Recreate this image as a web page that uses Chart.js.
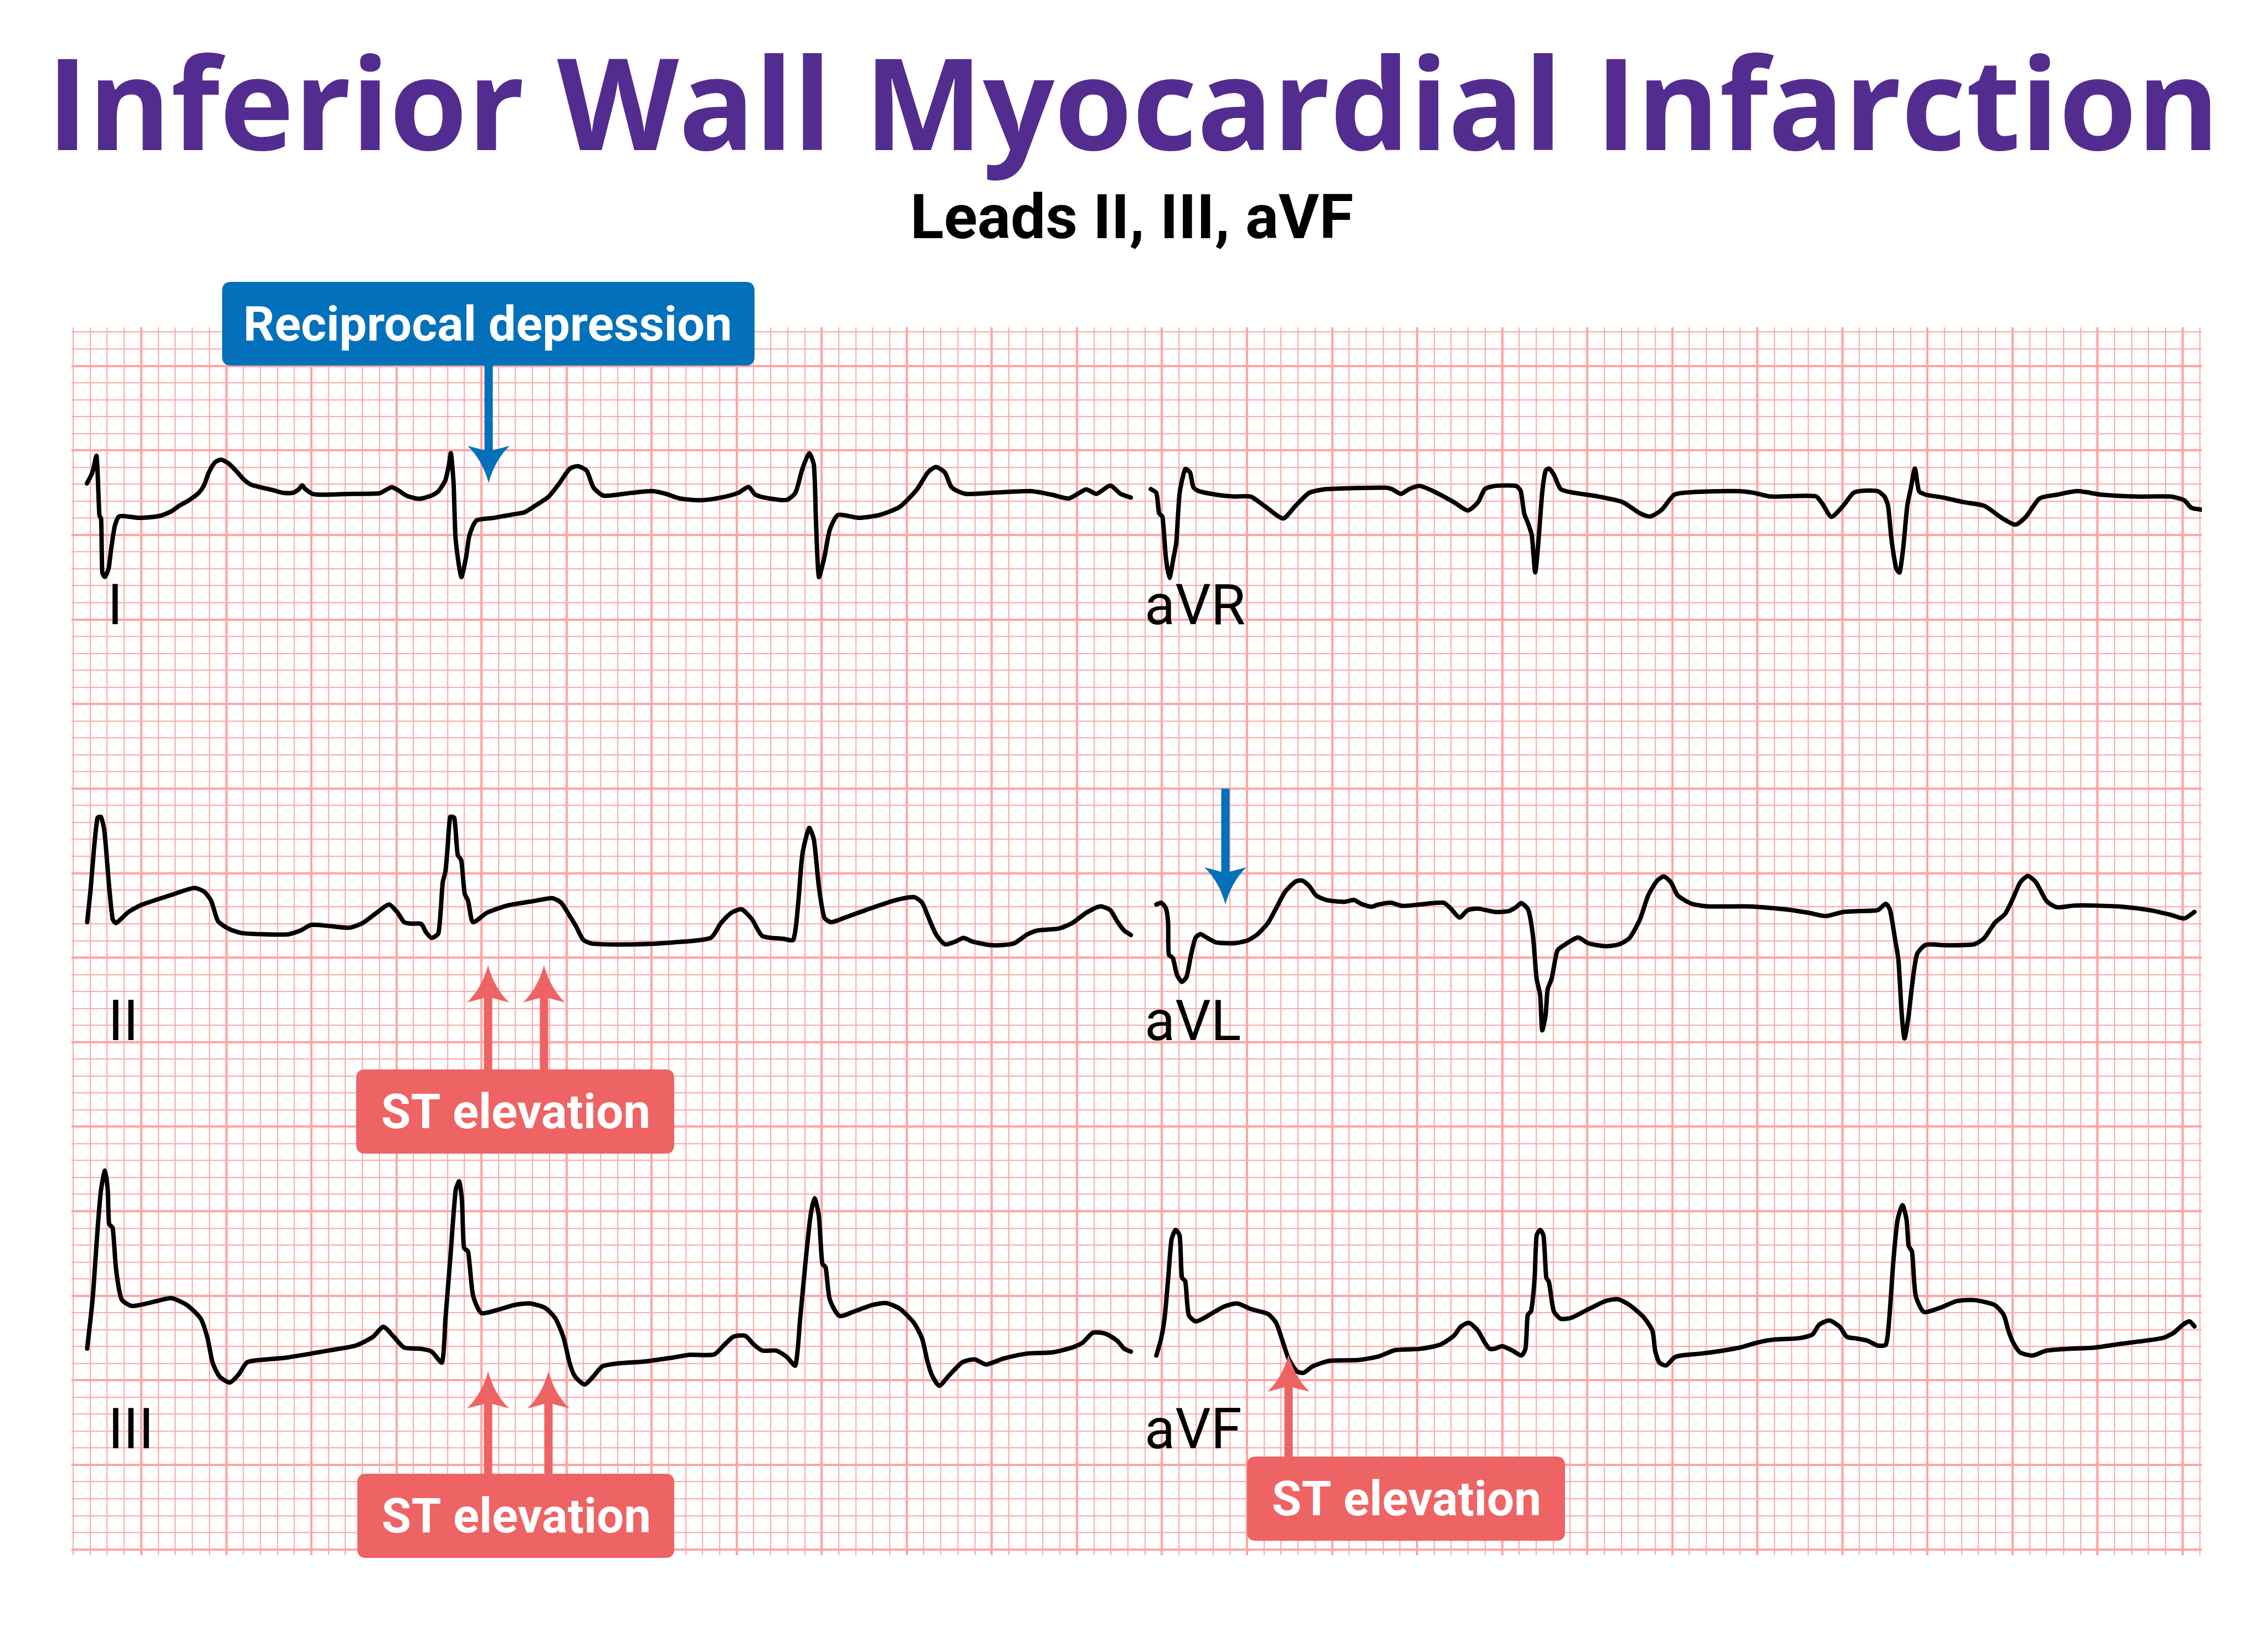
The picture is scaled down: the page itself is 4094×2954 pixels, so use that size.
<!DOCTYPE html>
<html><head><meta charset="utf-8">
<script src="https://cdn.jsdelivr.net/npm/chart.js@4/dist/chart.umd.min.js"></script>
<style>html,body{margin:0;padding:0;background:#fff;}canvas{display:block;}</style>
</head><body>
<canvas id="c" width="4094" height="2954" style="width:4094px;height:2954px"></canvas>
<script>
// ---------- DATA (time in mm of paper, amplitude in mm relative to the lead's baseline) ----------
const leadNames = ['I', 'aVR', 'II', 'aVL', 'III', 'aVF'];

const leadI = [[-3.19,0.55],[-2.87,1.20],[-2.63,2.17],[-2.46,-1.33],[-2.36,-1.55],[-2.29,-4.71],[-2.14,-4.98],[-1.92,-4.49],[-1.78,-3.40],[-1.56,-1.98],[-1.34,-1.43],[-1.05,-1.38],[-0.10,-1.49],[1.06,-1.38],[1.78,-1.10],[2.22,-0.78],[2.80,-0.45],[3.38,-0.01],[3.68,0.42],[3.97,1.19],[4.33,1.79],[4.69,1.95],[5.13,1.73],[5.57,1.30],[6.00,0.81],[6.44,0.48],[7.02,0.32],[7.75,0.15],[8.33,-0.01],[8.91,-0.01],[9.27,0.21],[9.45,0.44],[9.64,0.22],[10.07,-0.07],[10.65,-0.12],[12.40,-0.07],[14.00,-0.04],[14.36,0.15],[14.72,0.32],[15.09,0.15],[15.60,-0.18],[16.32,-0.36],[17.05,-0.18],[17.47,0.09],[17.88,0.75],[18.08,1.62],[18.20,2.33],[18.36,0.53],[18.48,-2.74],[18.81,-4.98],[19.09,-3.84],[19.29,-2.53],[19.70,-1.65],[20.71,-1.49],[21.93,-1.27],[22.53,-1.16],[23.14,-0.78],[23.95,-0.23],[24.56,0.53],[25.17,1.40],[25.65,1.57],[26.18,1.30],[26.58,0.31],[27.19,-0.18],[28.81,-0.01],[30.02,0.09],[30.84,-0.07],[31.65,-0.34],[32.86,-0.45],[34.08,-0.29],[35.09,-0.01],[35.70,0.34],[36.10,-0.12],[36.91,-0.34],[37.93,-0.43],[38.45,-0.01],[38.86,1.40],[39.26,2.33],[39.54,1.62],[39.66,-1.65],[39.83,-4.98],[40.15,-3.84],[40.47,-2.20],[40.96,-1.32],[42.17,-1.49],[43.39,-1.32],[44.60,-0.83],[45.61,0.21],[46.23,1.19],[46.71,1.52],[47.24,1.19],[47.64,0.31],[48.45,-0.07],[50.28,0.01],[52.30,0.09],[53.52,-0.12],[54.53,-0.34],[55.54,0.19],[56.15,-0.07],[56.96,0.42],[57.57,-0.07],[58.17,-0.29]];

const leadAVR = [[59.34,0.21],[59.67,-0.01],[59.83,-1.22],[60.03,-1.43],[60.23,-3.84],[60.44,-5.04],[60.68,-3.84],[60.84,-2.96],[61.04,-0.01],[61.37,1.40],[61.65,1.19],[61.85,0.31],[62.18,0.09],[63.19,-0.12],[64.20,-0.23],[65.21,-0.23],[66.02,-0.78],[67.12,-1.52],[67.85,-0.78],[68.66,-0.01],[69.67,0.21],[73.11,0.30],[73.52,0.21],[74.04,-0.07],[74.53,0.21],[75.14,0.40],[75.95,0.09],[77.16,-0.56],[77.97,-1.05],[78.58,-0.56],[78.98,0.21],[79.59,0.40],[80.81,0.40],[81.09,0.09],[81.29,-1.22],[81.54,-1.87],[81.74,-2.53],[81.94,-4.71],[82.14,-2.74],[82.35,-0.01],[82.55,1.30],[82.75,1.43],[83.03,1.08],[83.44,0.21],[84.25,-0.01],[85.66,-0.23],[87.08,-0.56],[88.10,-1.22],[88.70,-1.41],[89.39,-1.00],[90.12,-0.12],[91.34,0.04],[93.77,0.09],[94.78,-0.01],[95.79,-0.23],[98.42,-0.21],[98.83,-0.67],[99.35,-1.43],[100.04,-0.78],[100.65,-0.01],[101.26,0.12],[102.07,0.09],[102.47,-0.23],[102.68,-0.78],[102.88,-2.74],[103.16,-4.49],[103.36,-4.71],[103.57,-3.29],[103.81,-0.78],[104.01,0.21],[104.26,1.43],[104.50,0.09],[104.90,-0.12],[105.91,-0.29],[107.13,-0.56],[108.34,-0.78],[109.36,-1.49],[110.17,-1.89],[110.78,-1.43],[111.59,-0.34],[112.60,-0.12],[113.81,0.09],[115.23,-0.12],[117.26,-0.23],[119.28,-0.23],[120.09,-0.45],[120.50,-0.89],[121.11,-1.00]];

const leadII = [[-3.18,0.60],[-2.98,2.51],[-2.78,4.92],[-2.57,6.77],[-2.37,6.82],[-2.17,6.01],[-1.89,2.73],[-1.68,0.77],[-1.48,0.55],[-0.75,1.20],[0.06,1.64],[1.68,2.18],[3.10,2.62],[3.70,2.40],[4.11,1.86],[4.51,0.66],[5.12,0.22],[5.93,-0.05],[8.56,-0.13],[9.37,0.11],[9.98,0.44],[10.99,0.38],[12.21,0.27],[13.02,0.55],[13.83,1.15],[14.56,1.64],[15.04,1.20],[15.45,0.60],[15.85,0.51],[16.46,0.49],[16.74,0.00],[17.07,-0.33],[17.47,-0.05],[17.72,2.95],[17.88,3.60],[18.00,4.92],[18.16,6.82],[18.40,6.77],[18.60,4.59],[18.81,4.26],[19.01,2.29],[19.21,1.86],[19.50,0.60],[20.31,1.15],[21.52,1.58],[23.14,1.86],[24.15,2.02],[24.68,1.75],[25.17,0.99],[25.57,0.33],[25.98,-0.44],[26.58,-0.68],[29.22,-0.71],[31.24,-0.60],[33.47,-0.33],[34.08,0.55],[34.68,1.15],[35.29,1.36],[35.90,0.77],[36.51,-0.22],[37.72,-0.38],[38.33,-0.44],[38.61,1.64],[38.86,4.59],[39.26,6.17],[39.54,5.46],[39.83,2.73],[40.15,0.87],[40.56,0.60],[41.37,0.87],[42.58,1.31],[44.20,1.86],[45.41,2.08],[45.90,1.75],[46.23,0.99],[46.71,-0.11],[47.24,-0.71],[47.85,-0.55],[48.33,-0.33],[48.86,-0.55],[50.07,-0.77],[51.29,-0.66],[52.10,-0.11],[52.70,0.11],[53.92,0.22],[54.73,0.55],[55.54,1.15],[56.35,1.53],[56.96,1.31],[57.36,0.66],[57.77,0.11],[58.17,-0.16]];

const leadAVL = [[59.67,1.64],[59.95,1.75],[60.23,1.42],[60.36,0.55],[60.40,-1.31],[60.64,-1.53],[60.88,-2.51],[61.17,-2.93],[61.45,-2.62],[61.69,-1.42],[61.97,-0.33],[62.26,-0.11],[62.66,-0.33],[63.19,-0.60],[64.20,-0.65],[65.01,-0.49],[65.62,-0.11],[66.23,0.55],[66.71,1.42],[67.24,2.40],[67.85,3.00],[68.25,3.06],[68.66,2.73],[69.06,2.18],[69.67,1.91],[70.68,1.80],[71.29,1.91],[71.69,1.69],[72.30,1.51],[72.71,1.64],[73.44,1.75],[74.13,1.56],[75.14,1.64],[76.55,1.75],[76.96,1.42],[77.49,0.87],[77.97,1.31],[78.58,1.40],[79.59,1.20],[80.40,1.26],[80.81,1.48],[81.13,1.73],[81.54,1.31],[81.82,-0.33],[82.02,-2.73],[82.23,-3.71],[82.35,-5.79],[82.55,-4.91],[82.67,-3.38],[82.91,-2.73],[83.24,-1.09],[83.64,-0.76],[84.45,-0.31],[85.06,-0.65],[86.07,-0.82],[86.88,-0.71],[87.49,-0.33],[88.10,0.77],[88.58,2.18],[89.11,3.06],[89.51,3.30],[89.92,2.95],[90.32,2.18],[91.13,1.69],[92.14,1.53],[94.57,1.53],[96.60,1.36],[98.02,1.15],[99.03,0.96],[100.04,1.20],[101.05,1.26],[102.07,1.31],[102.55,1.69],[102.80,1.31],[103.08,-0.33],[103.29,-1.64],[103.49,-4.91],[103.65,-6.28],[103.89,-4.91],[104.09,-3.17],[104.38,-1.31],[104.90,-0.74],[106.12,-0.77],[107.74,-0.71],[108.34,-0.33],[108.95,0.55],[109.56,1.09],[109.96,1.86],[110.45,2.95],[110.90,3.33],[111.38,2.95],[111.99,1.86],[112.60,1.48],[113.61,1.58],[114.82,1.58],[116.44,1.51],[118.06,1.31],[119.27,1.04],[120.09,0.82],[120.69,1.20]];

const leadIII = [[-3.18,0.38],[-2.86,3.30],[-2.57,7.40],[-2.37,9.74],[-2.13,10.91],[-1.97,9.74],[-1.89,7.75],[-1.68,7.52],[-1.48,5.06],[-1.16,3.30],[-0.55,2.90],[0.67,3.13],[1.76,3.36],[2.69,2.95],[3.50,2.14],[3.90,0.97],[4.19,-0.44],[4.59,-1.26],[5.20,-1.63],[5.73,-1.14],[6.21,-0.44],[6.94,-0.30],[8.56,-0.15],[10.99,0.26],[12.61,0.56],[13.63,1.08],[14.23,1.67],[14.84,1.08],[15.45,0.44],[16.46,0.36],[17.07,0.20],[17.68,-0.44],[17.88,2.14],[18.16,5.64],[18.48,9.74],[18.69,10.27],[18.85,9.15],[18.97,6.34],[19.21,6.11],[19.50,3.54],[19.98,2.49],[20.92,2.66],[21.93,2.96],[22.82,3.05],[23.75,2.78],[24.36,2.14],[24.84,0.97],[25.17,-0.44],[25.49,-1.26],[26.06,-1.75],[26.58,-1.26],[27.11,-0.67],[28.00,-0.50],[29.62,-0.38],[31.24,-0.15],[32.26,0.01],[33.67,0.03],[34.28,0.61],[34.81,1.08],[35.49,1.14],[36.02,0.61],[36.51,0.26],[37.32,0.26],[37.92,-0.09],[38.45,-0.62],[38.73,2.14],[39.06,5.64],[39.34,8.22],[39.58,9.27],[39.83,8.22],[40.03,5.41],[40.23,5.18],[40.47,3.30],[41.04,2.31],[41.97,2.60],[42.99,2.96],[43.80,3.07],[44.61,2.72],[45.42,1.90],[45.90,0.97],[46.23,-0.44],[46.51,-1.26],[46.91,-1.82],[47.44,-1.26],[48.25,-0.44],[48.98,-0.26],[49.67,-0.56],[50.68,-0.21],[52.10,0.09],[53.52,0.15],[54.73,0.44],[55.34,0.73],[55.95,1.32],[56.68,1.26],[57.36,0.85],[57.77,0.38],[58.17,0.20]];

const leadAVF = [[59.67,-0.03],[59.95,0.97],[60.15,2.14],[60.36,4.47],[60.56,6.81],[60.80,7.40],[61.04,7.05],[61.17,4.59],[61.37,4.36],[61.57,2.37],[61.98,1.99],[62.58,2.25],[63.60,2.84],[64.41,3.05],[65.21,2.72],[66.23,2.43],[66.71,1.90],[67.04,0.97],[67.44,-0.21],[67.93,-0.97],[68.33,-1.05],[68.86,-0.67],[69.87,-0.34],[71.49,-0.30],[72.71,-0.09],[73.72,0.29],[75.14,0.36],[76.35,0.61],[77.16,1.14],[77.56,1.67],[78.05,1.90],[78.58,1.43],[78.98,0.73],[79.27,0.36],[79.59,0.38],[80.00,0.52],[80.60,0.26],[81.13,-0.03],[81.37,0.38],[81.50,2.37],[81.70,2.60],[81.90,4.47],[82.02,7.05],[82.23,7.40],[82.43,7.05],[82.59,4.59],[82.75,4.30],[83.03,2.60],[83.44,2.14],[84.05,2.20],[84.86,2.60],[86.07,3.19],[86.80,3.30],[87.49,2.95],[88.30,2.25],[88.83,1.43],[88.99,0.26],[89.23,-0.44],[89.63,-0.62],[90.12,-0.15],[90.53,-0.03],[91.74,0.09],[92.96,0.26],[93.97,0.44],[94.98,0.73],[95.99,0.91],[97.41,0.99],[98.22,1.20],[98.63,1.79],[99.23,2.04],[99.84,1.67],[100.25,1.08],[100.85,0.97],[101.46,0.85],[102.07,0.56],[102.55,0.61],[102.75,2.14],[103.00,5.64],[103.24,7.98],[103.53,8.86],[103.77,7.98],[103.89,6.46],[104.09,6.11],[104.30,3.54],[104.78,2.55],[105.71,2.78],[106.73,3.19],[107.74,3.25],[108.95,2.95],[109.48,2.37],[109.76,1.43],[110.04,0.73],[110.45,0.15],[111.18,-0.03],[111.99,0.26],[113.20,0.36],[114.82,0.44],[116.44,0.67],[117.85,0.85],[118.87,1.02],[119.48,1.32],[120.01,1.79],[120.41,1.99],[120.69,1.69]];

const annotationTexts = ['Reciprocal depression', 'ST elevation', 'ST elevation', 'ST elevation'];
const titleText = 'Inferior Wall Myocardial Infarction';
const subtitleText = 'Leads II, III, aVF';

// ---------- LAYOUT / STYLE ----------
const leadSeries = [leadI, leadAVR, leadII, leadAVL, leadIII, leadAVF];
const rowBase = [62.5, 62.5, 36.5, 36.5, 11.5, 11.5];   // paper-row baseline of each lead (mm)
const X_MIN = -4.103, X_MAX = 121.13, Y_MIN = -0.347, Y_MAX = 72.28;
const PAD = {left: 129, right: 4094 - 3974.7, top: 591, bottom: 2954 - 2808.3};
const MINOR = 'rgba(255,170,170,0.95)', MAJOR = 'rgb(255,164,164)';
const BLUE = '#0270ba', RED = '#ee6363', PURPLE = '#532c8f';

const labelPos = [ // ink-left x, baseline y (px)
  [203, 1127], [2071, 1127], [204, 1878], [2071, 1878], [204, 2615], [2071, 2615]
];

const datasets = leadSeries.map((s, k) => ({
  label: leadNames[k],
  data: s.map(p => ({x: p[0], y: p[1] + rowBase[k]})),
  showLine: true,
  borderColor: '#000',
  borderWidth: 8,
  pointRadius: 0,
  tension: 0.22,
  borderJoinStyle: 'round',
  borderCapStyle: 'round',
  fill: false
}));

function capRatio(ctx, font) {
  ctx.font = font.replace('{s}', '100px');
  return ctx.measureText('H').actualBoundingBoxAscent / 100;
}
function drawFitted(ctx, s) {
  ctx.save();
  const base = `${s.weight} {s} ${s.family}`;
  const r = capRatio(ctx, base);
  const size = s.capH / r;
  ctx.font = base.replace('{s}', size + 'px');
  ctx.textAlign = 'left';
  ctx.textBaseline = 'alphabetic';
  const m = ctx.measureText(s.text);
  const ink = m.actualBoundingBoxLeft + m.actualBoundingBoxRight;
  let sx = 1, left = s.left;
  if (s.right != null) sx = (s.right - s.left) / ink;
  if (s.center != null) { left = s.center - ink * sx / 2; }
  ctx.translate(left, s.baseline);
  ctx.scale(sx, 1);
  ctx.fillStyle = s.color;
  ctx.fillText(s.text, m.actualBoundingBoxLeft, 0);
  ctx.restore();
}
function roundRect(ctx, x0, y0, x1, y1, r, color) {
  ctx.beginPath();
  ctx.moveTo(x0 + r, y0);
  ctx.lineTo(x1 - r, y0); ctx.quadraticCurveTo(x1, y0, x1, y0 + r);
  ctx.lineTo(x1, y1 - r); ctx.quadraticCurveTo(x1, y1, x1 - r, y1);
  ctx.lineTo(x0 + r, y1); ctx.quadraticCurveTo(x0, y1, x0, y1 - r);
  ctx.lineTo(x0, y0 + r); ctx.quadraticCurveTo(x0, y0, x0 + r, y0);
  ctx.closePath();
  ctx.fillStyle = color; ctx.fill();
}
function arrow(ctx, x, from, tip, color) {
  const headLen = 67, halfW = 38, shaftW = 15, notch = 10;
  const dir = Math.sign(tip - from);
  const baseY = tip - dir * headLen;
  const notchY = baseY + dir * notch;
  ctx.fillStyle = color;
  const ya = from, yb = notchY + dir * 3;
  ctx.fillRect(x - shaftW / 2, Math.min(ya, yb), shaftW, Math.abs(yb - ya));
  ctx.beginPath();
  ctx.moveTo(x, tip);
  ctx.quadraticCurveTo(x + halfW * 0.3, tip - dir * headLen * 0.62, x + halfW, baseY);
  ctx.lineTo(x, notchY);
  ctx.lineTo(x - halfW, baseY);
  ctx.quadraticCurveTo(x - halfW * 0.3, tip - dir * headLen * 0.62, x, tip);
  ctx.closePath();
  ctx.fill();
}

const boxes = [
  {x0: 401, y0: 509, x1: 1362, y1: 660, color: BLUE, text: 0},
  {x0: 643, y0: 1931, x1: 1217, y1: 2083, color: RED, text: 1},
  {x0: 645, y0: 2661, x1: 1217, y1: 2813, color: RED, text: 2},
  {x0: 2251, y0: 2630, x1: 2825, y1: 2782, color: RED, text: 3}
];
const arrows = [
  {x: 882, from: 655, tip: 872, color: BLUE},
  {x: 2212, from: 1424, tip: 1633, color: BLUE},
  {x: 881, from: 1935, tip: 1743, color: RED},
  {x: 982, from: 1935, tip: 1743, color: RED},
  {x: 881, from: 2665, tip: 2476, color: RED},
  {x: 990, from: 2665, tip: 2476, color: RED},
  {x: 2326, from: 2634, tip: 2446, color: RED}
];

const overlay = {
  id: 'overlay',
  afterDatasetsDraw(chart) {
    const ctx = chart.ctx;
    // lead labels
    ctx.save();
    ctx.fillStyle = '#000';
    leadNames.forEach((n, k) => {
      const base = '400 {s} Roboto';
      const r = capRatio(ctx, base);
      ctx.font = base.replace('{s}', (73 / r) + 'px');
      ctx.textBaseline = 'alphabetic'; ctx.textAlign = 'left';
      const m = ctx.measureText(n);
      const p = labelPos[k];
      ctx.fillText(n, p[0] + m.actualBoundingBoxLeft, p[1]);
    });
    ctx.restore();
    // arrows then boxes
    arrows.forEach(a => arrow(ctx, a.x, a.from, a.tip, a.color));
    boxes.forEach(b => {
      roundRect(ctx, b.x0, b.y0, b.x1, b.y1, 16, b.color);
      const txt = annotationTexts[b.text];
      const isBlue = b.text === 0;
      drawFitted(ctx, {
        text: txt, weight: 700, family: 'Roboto', color: '#fff',
        capH: isBlue ? 63 : 62.7,
        left: isBlue ? 444 : 0, right: isBlue ? 1317.5 : null,
        center: isBlue ? null : (b.x0 + b.x1) / 2,
        baseline: b.y0 + (isBlue ? 106 : 105.7)
      });
    });
    // titles
    drawFitted(ctx, {text: titleText, weight: 700, family: '"Open Sans"', color: PURPLE,
      capH: 165, left: 104, right: 3990, baseline: 271});
    drawFitted(ctx, {text: subtitleText, weight: 700, family: 'Roboto', color: '#000',
      capH: 80, left: 1650, right: 2441, baseline: 430});
  }
};

const gridColor = c => (c.tick && Math.round(c.tick.value) % 5 === 0) ? MAJOR : MINOR;
const gridWidth = c => (c.tick && Math.round(c.tick.value) % 5 === 0) ? 4 : 2.2;

new Chart(document.getElementById('c'), {
  type: 'scatter',
  data: {datasets},
  options: {
    responsive: false,
    devicePixelRatio: 1,
    animation: false,
    layout: {padding: PAD},
    plugins: {legend: {display: false}, tooltip: {enabled: false}, title: {display: false}},
    scales: {
      x: {type: 'linear', min: X_MIN, max: X_MAX,
          ticks: {display: false, stepSize: 1, includeBounds: false},
          grid: {color: gridColor, lineWidth: gridWidth, drawTicks: false},
          border: {display: false}},
      y: {type: 'linear', min: Y_MIN, max: Y_MAX,
          ticks: {display: false, stepSize: 1, includeBounds: false},
          grid: {color: gridColor, lineWidth: gridWidth, drawTicks: false},
          border: {display: false}}
    }
  },
  plugins: [overlay]
});
</script>
</body></html>
